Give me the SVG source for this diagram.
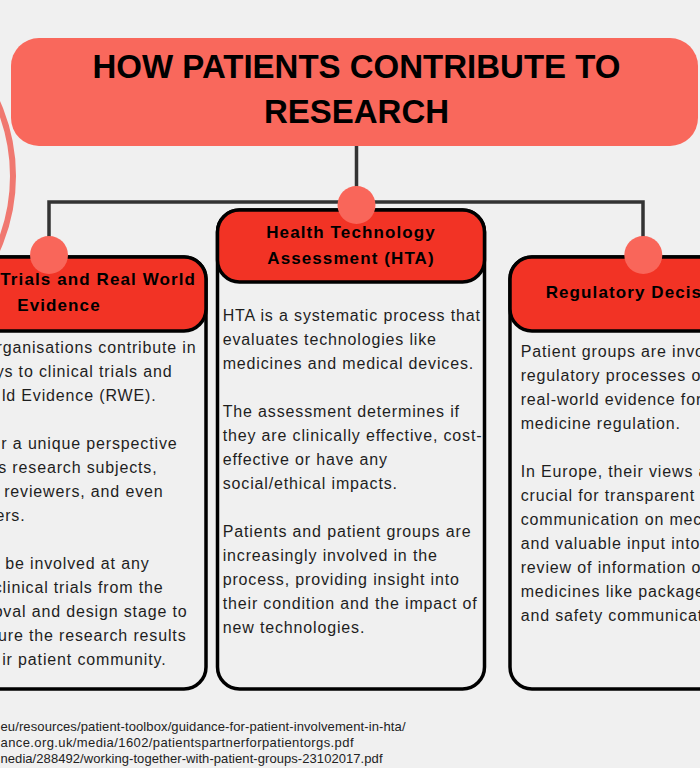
<svg xmlns="http://www.w3.org/2000/svg" width="700" height="768" viewBox="0 0 700 768">
<style>
  .title { font-family: "Liberation Sans", Arial, sans-serif; font-weight: bold; font-size: 33px; fill: #000; }
  .head { font-family: "Liberation Sans", Arial, sans-serif; font-weight: bold; font-size: 17px; letter-spacing: 1.1px; fill: #000; }
  .body { font-family: "Liberation Sans", Arial, sans-serif; font-size: 16px; letter-spacing: 0.85px; fill: #1e1e1e; }
  .ref { font-family: "Liberation Sans", Arial, sans-serif; font-size: 13px; fill: #222; }
  .card { fill: #f0f0f0; stroke: #000; stroke-width: 3.5; }
  .cardhead { fill: #f23325; stroke: #000; stroke-width: 3.5; }
  .conn { fill: none; stroke: #333; stroke-width: 3.5; }
  .dot { fill: #f9665a; }
</style>
<rect x="0" y="0" width="700" height="768" fill="#f0f0f0"/>

<g id="decoration">
  <circle cx="-168" cy="176" r="181" fill="none" stroke="#f07870" stroke-width="6"/>
</g>

<g id="title">
  <rect x="11" y="38" width="687" height="108" rx="28" fill="#f9685c"/>
  <text class="title" x="356.5" y="78.3" text-anchor="middle">HOW PATIENTS CONTRIBUTE TO</text>
  <text class="title" x="356.5" y="122.5" text-anchor="middle">RESEARCH</text>
</g>

<g id="connectors">
  <path class="conn" d="M356.5 146 V203"/>
  <path class="conn" d="M49 255 V202 H643 V255"/>
</g>

<g id="card-clinical">
  <rect class="card" x="-61" y="257" width="267" height="432" rx="22"/>
  <rect class="cardhead" x="-61" y="257" width="267" height="74" rx="22"/>
  <text class="head" x="196" y="285" text-anchor="end">Trials and Real World</text>
  <text class="head" x="59" y="311" text-anchor="middle">Evidence</text>
  <g class="body" text-anchor="end">
    <text x="196.5" y="353">rganisations contribute in</text>
    <text x="172.5" y="377">ys to clinical trials and</text>
    <text x="156.5" y="401">ld Evidence (RWE).</text>
    <text x="177.5" y="449">r a unique perspective</text>
    <text x="157.5" y="473">s research subjects,</text>
    <text x="163.5" y="497">reviewers, and even</text>
    <text x="25.5" y="521">ers.</text>
    <text x="149.5" y="569">be involved at any</text>
    <text x="163.5" y="593">clinical trials from the</text>
    <text x="187.5" y="617">oval and design stage to</text>
    <text x="186.5" y="641">ure the research results</text>
    <text x="166.5" y="665">ir patient community.</text>
  </g>
</g>

<g id="card-hta">
  <rect class="card" x="217.5" y="210" width="267" height="479" rx="22"/>
  <rect class="cardhead" x="217.5" y="210" width="267" height="72" rx="22"/>
  <text class="head" x="351" y="237.5" text-anchor="middle">Health Technology</text>
  <text class="head" x="351" y="263.5" text-anchor="middle">Assessment (HTA)</text>
  <g class="body">
    <text x="222.7" y="321">HTA is a systematic process that</text>
    <text x="222.7" y="345">evaluates technologies like</text>
    <text x="222.7" y="369">medicines and medical devices.</text>
    <text x="222.7" y="417">The assessment determines if</text>
    <text x="222.7" y="441">they are clinically effective, cost-</text>
    <text x="222.7" y="465">effective or have any</text>
    <text x="222.7" y="489">social/ethical impacts.</text>
    <text x="222.7" y="537">Patients and patient groups are</text>
    <text x="222.7" y="561">increasingly involved in the</text>
    <text x="222.7" y="585">process, providing insight into</text>
    <text x="222.7" y="609">their condition and the impact of</text>
    <text x="222.7" y="633">new technologies.</text>
  </g>
</g>

<g id="card-regulatory">
  <rect class="card" x="510" y="257" width="267" height="432" rx="22"/>
  <rect class="cardhead" x="510" y="257" width="267" height="74" rx="22"/>
  <text class="head" x="545.7" y="298.3">Regulatory Decis</text>
  <g class="body">
    <text x="520.7" y="356.5">Patient groups are invo</text>
    <text x="520.7" y="380.5">regulatory processes o</text>
    <text x="520.7" y="404.5">real-world evidence for</text>
    <text x="520.7" y="428.5">medicine regulation.</text>
    <text x="520.7" y="476.5">In Europe, their views a</text>
    <text x="520.7" y="500.5">crucial for transparent</text>
    <text x="520.7" y="524.5">communication on mec</text>
    <text x="520.7" y="548.5">and valuable input into</text>
    <text x="520.7" y="572.5">review of information o</text>
    <text x="520.7" y="596.5">medicines like package</text>
    <text x="520.7" y="620.7">and safety communicat</text>
  </g>
</g>

<g id="junctions">
  <circle class="dot" cx="49" cy="255" r="19"/>
  <circle class="dot" cx="356.5" cy="205" r="19"/>
  <circle class="dot" cx="643.3" cy="255" r="19"/>
</g>

<g id="references" class="ref">
  <text x="0.5" y="731" textLength="405" lengthAdjust="spacing">eu/resources/patient-toolbox/guidance-for-patient-involvement-in-hta/</text>
  <text x="0.5" y="747" textLength="353" lengthAdjust="spacing">ance.org.uk/media/1602/patientspartnerforpatientorgs.pdf</text>
  <text x="0.5" y="763" textLength="382" lengthAdjust="spacing">nedia/288492/working-together-with-patient-groups-23102017.pdf</text>
</g>
</svg>
